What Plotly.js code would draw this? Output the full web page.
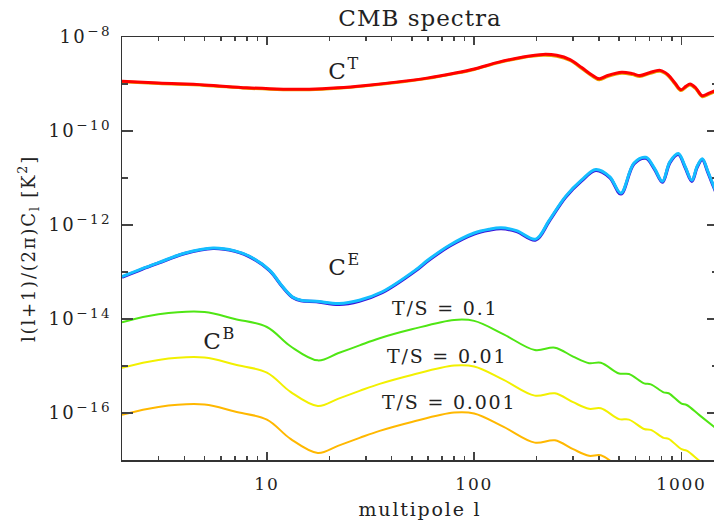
<!DOCTYPE html>
<html>
<head>
<meta charset="utf-8">
<script src="https://cdn.plot.ly/plotly-3.0.1.min.js"></script>
<style>
html, body { margin: 0; padding: 0; overflow: hidden; background: #fff; }
#plot text { letter-spacing: 1.8px; }
#plot .gtitle { letter-spacing: 1px; }
#plot .ytick text { letter-spacing: 2.4px; }
</style>
</head>
<body>
<div id="plot"></div>
<script>
// ---- data ----
// Temperature spectrum C^T
var ctL = [2, 3, 5, 8, 12, 16, 22, 30, 42, 60, 80, 100, 130, 170, 215, 250, 290, 330, 370, 401, 440, 515, 580, 630, 700, 790, 860, 930, 993, 1050, 1100, 1170, 1260, 1350, 1500];
var ctRed = [1.148e-9, 1.047e-9, 9.550e-10, 8.318e-10, 7.762e-10, 7.762e-10, 8.318e-10, 9.333e-10, 1.096e-9, 1.349e-9, 1.698e-9, 2.089e-9, 2.884e-9, 3.715e-9, 4.266e-9, 4.074e-9, 3.311e-9, 2.239e-9, 1.549e-9, 1.288e-9, 1.514e-9, 1.778e-9, 1.660e-9, 1.514e-9, 1.738e-9, 1.950e-9, 1.585e-9, 1.047e-9, 7.586e-10, 8.913e-10, 1.000e-9, 8.318e-10, 5.623e-10, 6.310e-10, 7.586e-10];
var ctOrange = [1.122e-9, 1.023e-9, 9.333e-10, 8.128e-10, 7.586e-10, 7.586e-10, 8.128e-10, 9.120e-10, 1.072e-9, 1.318e-9, 1.660e-9, 2.042e-9, 2.818e-9, 3.631e-9, 4.074e-9, 3.890e-9, 3.162e-9, 2.138e-9, 1.479e-9, 1.230e-9, 1.445e-9, 1.698e-9, 1.585e-9, 1.445e-9, 1.660e-9, 1.862e-9, 1.514e-9, 1.000e-9, 7.244e-10, 8.511e-10, 9.550e-10, 7.943e-10, 5.370e-10, 6.026e-10, 7.244e-10];

// E-mode polarisation spectrum C^E
var ceL = [2, 2.5, 3, 4, 5.5, 7, 8.2, 10.3, 11.9, 13.3, 14.6, 17.3, 22.3, 27.9, 36, 52, 60, 76, 100, 118, 135, 160, 198, 230, 276, 330, 386, 450, 510, 590, 673, 740, 809, 880, 966, 1040, 1122, 1190, 1260, 1340, 1423, 1500];
var ceLight = [7.943e-14, 1.175e-13, 1.585e-13, 2.512e-13, 3.236e-13, 2.818e-13, 2.188e-13, 1.096e-13, 4.898e-14, 2.951e-14, 2.512e-14, 2.399e-14, 2.138e-14, 2.512e-14, 3.802e-14, 1.096e-13, 1.820e-13, 3.715e-13, 6.761e-13, 8.128e-13, 8.710e-13, 7.586e-13, 5.012e-13, 1.259e-12, 4.074e-12, 9.120e-12, 1.514e-11, 1.072e-11, 4.786e-12, 2.089e-11, 2.754e-11, 1.622e-11, 8.511e-12, 2.239e-11, 3.311e-11, 1.778e-11, 8.913e-12, 1.778e-11, 2.570e-11, 1.380e-11, 7.079e-12, 3.981e-12];
var ceDark = [7.762e-14, 1.148e-13, 1.549e-13, 2.455e-13, 3.162e-13, 2.754e-13, 2.138e-13, 1.072e-13, 4.786e-14, 2.884e-14, 2.455e-14, 2.344e-14, 2.042e-14, 2.399e-14, 3.631e-14, 1.047e-13, 1.738e-13, 3.548e-13, 6.457e-13, 7.762e-13, 8.318e-13, 7.244e-13, 4.786e-13, 1.202e-12, 3.890e-12, 8.710e-12, 1.445e-11, 1.023e-11, 4.571e-12, 1.995e-11, 2.630e-11, 1.549e-11, 8.128e-12, 2.138e-11, 3.162e-11, 1.698e-11, 8.511e-12, 1.698e-11, 2.455e-11, 1.318e-11, 6.761e-12, 3.802e-12];

// B-mode spectra C^B for three tensor-to-scalar ratios
var cbL = [2, 3, 5, 7, 10, 13, 17.6, 22, 28, 35, 50, 80, 100, 138, 196, 245, 300, 358, 408, 500, 558, 660, 711, 820, 867, 1000, 1059, 1224, 1500];
var cbTS01 = [8.511e-15, 1.259e-14, 1.413e-14, 1.000e-14, 6.761e-15, 2.630e-15, 1.318e-15, 1.862e-15, 2.754e-15, 3.890e-15, 6.026e-15, 9.550e-15, 9.120e-15, 4.786e-15, 2.188e-15, 2.455e-15, 1.585e-15, 1.148e-15, 1.175e-15, 6.918e-16, 6.761e-16, 4.266e-16, 4.074e-16, 2.754e-16, 2.630e-16, 1.585e-16, 1.479e-16, 8.913e-17, 4.365e-17];
var cbTS001 = [9.120e-16, 1.349e-15, 1.514e-15, 1.072e-15, 7.244e-16, 2.818e-16, 1.413e-16, 1.995e-16, 2.951e-16, 4.169e-16, 6.457e-16, 1.023e-15, 9.772e-16, 5.129e-16, 2.344e-16, 2.630e-16, 1.698e-16, 1.230e-16, 1.259e-16, 7.413e-17, 7.244e-17, 4.571e-17, 4.365e-17, 2.951e-17, 2.818e-17, 1.698e-17, 1.585e-17, 9.550e-18, 4.677e-18];
var cbL3 = [2, 3, 5, 7, 10, 13, 17.6, 22, 28, 35, 50, 80, 100, 138, 196, 245, 300, 358, 408, 500, 558];
var cbTS0001 = [9.120e-17, 1.349e-16, 1.514e-16, 1.072e-16, 7.244e-17, 2.818e-17, 1.413e-17, 1.995e-17, 2.951e-17, 4.169e-17, 6.457e-17, 1.023e-16, 9.772e-17, 5.129e-17, 2.344e-17, 2.630e-17, 1.698e-17, 1.230e-17, 1.259e-17, 7.413e-18, 7.244e-18];

// axis ticks
var xTickVals = [10, 100, 1000];
var xTickText = ['10', '100', '1000'];
var xMinorVals = [2, 3, 4, 5, 6, 7, 8, 9, 20, 30, 40, 50, 60, 70, 80, 90, 200, 300, 400, 500, 600, 700, 800, 900];
var yTickVals = [1e-16, 1e-14, 1e-12, 1e-10, 1e-8];
var yTickExp = ['\u221216', '\u221214', '\u221212', '\u221210', '\u22128'];
var yMinorVals = [1e-17, 1e-15, 1e-13, 1e-11, 1e-9];

var yTickText = yTickExp.map(function (e) {
  return '10<sup><span style="font-size:13.5px">' + e + '</span></sup>';
});

// ---- figure ----
var W = 719, H = 521;
var ML = 122, MR = 1, MT = 37, MB = 61;
function px(x) { return (x - ML) / (W - ML - MR); }
function py(y) { return (H - MB - y) / (H - MT - MB); }

function line(x, y, color, width) {
  return { x: x, y: y, type: 'scatter', mode: 'lines', hoverinfo: 'skip',
           line: { color: color, width: width, shape: 'spline', smoothing: 1 } };
}

var traces = [
  line(ctL, ctOrange, '#E8A200', 3),
  line(ctL, ctRed, '#FF0000', 3),
  line(ceL, ceDark, '#3A10D8', 3.2),
  line(ceL, ceLight, '#14BEFF', 3),
  line(cbL, cbTS01, '#4FE614', 2),
  line(cbL, cbTS001, '#F2F000', 2),
  line(cbL3, cbTS0001, '#FFB800', 2)
];

var FONT = 'DejaVu Serif';
var TXT = '#222';
function ann(text, x, y, size) {
  return { text: text, xref: 'paper', yref: 'paper', x: px(x), y: py(y),
           xanchor: 'center', yanchor: 'middle', showarrow: false,
           font: { family: FONT, size: size, color: TXT } };
}

var layout = {
  width: W, height: H,
  margin: { l: ML, r: MR, t: MT, b: MB, pad: 0 },
  paper_bgcolor: '#fff', plot_bgcolor: '#fff',
  showlegend: false,
  title: { text: 'CMB spectra', x: 0.5, xref: 'paper', xanchor: 'center',
           y: 1 - 18 / H, yref: 'container', yanchor: 'middle',
           font: { family: FONT, size: 23, color: TXT } },
  xaxis: {
    type: 'log', range: [Math.log10(2), Math.log10(1500)],
    showgrid: false, zeroline: false,
    showline: true, linecolor: '#333', linewidth: 1.5, mirror: 'ticks',
    ticks: 'inside', ticklen: 8, tickwidth: 1.5, tickcolor: '#444',
    tickmode: 'array', tickvals: xTickVals, ticktext: xTickText,
    ticklabelstandoff: 8,
    minor: { tickmode: 'array', tickvals: xMinorVals, ticks: 'inside', ticklen: 4, tickwidth: 1.5, tickcolor: '#444', showgrid: false },
    tickfont: { family: FONT, size: 17, color: TXT },
    title: { text: 'multipole l', standoff: 10, font: { family: FONT, size: 19, color: TXT } }
  },
  yaxis: {
    type: 'log', range: [-17, -8],
    showgrid: false, zeroline: false,
    showline: true, linecolor: '#333', linewidth: 1.5, mirror: 'ticks',
    ticks: 'inside', ticklen: 11, tickwidth: 1.5, tickcolor: '#444',
    tickmode: 'array', tickvals: yTickVals, ticktext: yTickText,
    ticklabelstandoff: 5,
    minor: { tickmode: 'array', tickvals: yMinorVals, ticks: 'inside', ticklen: 6, tickwidth: 1.5, tickcolor: '#444', showgrid: false },
    tickfont: { family: FONT, size: 18, color: TXT },
    title: { text: 'l(l+1)/(2\u03C0)C<sub>l</sub> [K<sup>2</sup>]', standoff: 20, font: { family: FONT, size: 18, color: TXT } }
  },
  annotations: [
    ann('C<sup>T</sup>', 344, 69, 23),
    ann('C<sup>E</sup>', 344, 265, 23),
    ann('C<sup>B</sup>', 219, 339, 23),
    ann('T/S = 0.1', 445, 308, 19),
    ann('T/S = 0.01', 447, 356, 19),
    ann('T/S = 0.001', 449, 402, 19)
  ]
};

Plotly.newPlot('plot', traces, layout, { displayModeBar: false, staticPlot: true });
</script>
</body>
</html>
